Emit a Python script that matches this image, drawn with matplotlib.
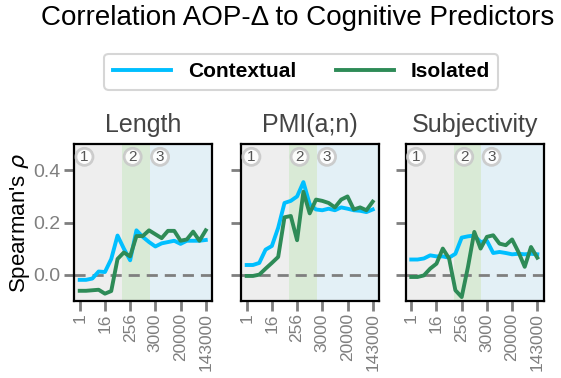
import numpy as np
import matplotlib
matplotlib.use("Agg")
import matplotlib.pyplot as plt
from matplotlib.lines import Line2D

plt.rcParams["font.family"] = ["Liberation Sans", "DejaVu Sans"]

# training checkpoints (x positions are their index), labels every 4th
tick_steps = ["1", "16", "256", "3000", "20000", "143000"]
panels = ["Length", "PMI(a;n)", "Subjectivity"]

contextual = {
    "Length": [-0.02, -0.02, -0.015, 0.012, 0.01, 0.06, 0.15, 0.10, 0.055, 0.17,
               0.145, 0.125, 0.108, 0.12, 0.125, 0.13, 0.118, 0.13, 0.13, 0.13, 0.133],
    "PMI(a;n)": [0.037, 0.037, 0.045, 0.096, 0.11, 0.18, 0.275, 0.283, 0.30, 0.355,
                 0.27, 0.25, 0.247, 0.253, 0.247, 0.258, 0.253, 0.247, 0.245, 0.24, 0.25],
    "Subjectivity": [0.058, 0.058, 0.062, 0.074, 0.07, 0.07, 0.065, 0.08, 0.142, 0.147,
                     0.15, 0.125, 0.13, 0.083, 0.087, 0.083, 0.078, 0.08, 0.078, 0.08, 0.078],
}
isolated = {
    "Length": [-0.062, -0.062, -0.06, -0.058, -0.073, -0.063, 0.06, 0.085, 0.07, 0.148,
               0.148, 0.17, 0.155, 0.14, 0.168, 0.168, 0.13, 0.135, 0.165, 0.13, 0.17],
    "PMI(a;n)": [-0.005, -0.005, 0.0, 0.023, 0.045, 0.068, 0.22, 0.225, 0.132, 0.318,
                 0.235, 0.288, 0.283, 0.275, 0.258, 0.288, 0.30, 0.25, 0.258, 0.247, 0.28],
    "Subjectivity": [-0.009, -0.009, -0.003, 0.023, 0.042, 0.10, 0.062, -0.06, -0.086, 0.03,
                     0.164, 0.10, 0.145, 0.151, 0.119, 0.113, 0.135, 0.087, 0.03, 0.106, 0.065],
}

# learning phases: edges of the shaded bands
phase_edges = [-0.9, 6.75, 11.1, 21.0]
phase_colors = ["#eeeeee", "#d9ead6", "#e3f0f6"]
phase_labels = ["1", "2", "3"]

c_ctx = "#00bfff"
c_iso = "#2e8b57"
gray = "#7f7f7f"

fig = plt.figure(figsize=(5.61, 3.78), dpi=100)
lefts = [0.132, 0.4296, 0.723]
axes = [fig.add_axes([l, 0.2045, 0.246, 0.4137]) for l in lefts]

for ax, name in zip(axes, panels):
    x = np.arange(len(contextual[name]))
    for i in range(3):
        ax.axvspan(phase_edges[i], phase_edges[i + 1], color=phase_colors[i], zorder=0, lw=0)
        ax.text(phase_edges[i] + 1.65, 0.452, phase_labels[i], ha="center", va="center",
                fontsize=11, color="#555555", zorder=5,
                bbox=dict(boxstyle="circle,pad=0.1", fc="white", ec="#c8c8c8", lw=2, alpha=0.9))
    ax.axhline(0, color=gray, ls="--", lw=2, dashes=(4, 2.5), zorder=1)
    ax.plot(x, contextual[name], color=c_ctx, lw=2.8, zorder=3)
    ax.plot(x, isolated[name], color=c_iso, lw=2.8, zorder=4)

    ax.set_xlim(phase_edges[0], phase_edges[-1])
    ax.set_ylim(-0.1, 0.5)
    ax.set_xticks(x[::4])
    ax.set_xticklabels(tick_steps, rotation=90, color=gray, fontsize=12.5)
    ax.set_yticks([0.0, 0.2, 0.4])
    ax.tick_params(length=7, width=2, color=gray, labelsize=14, labelcolor=gray, pad=3)
    ax.tick_params(axis="x", labelsize=12.5, pad=2)
    ax.set_title(name, color="#444444", fontsize=18, pad=9)
    for sp in ax.spines.values():
        sp.set_linewidth(1.6)
        sp.set_color("black")

axes[0].set_ylabel("Spearman's $\\rho$", fontsize=16, labelpad=1)
for ax in axes[1:]:
    ax.set_yticklabels([])

fig.text(0.53, 0.952, "Correlation AOP-\u0394 to Cognitive Predictors", ha="center", va="center", fontsize=20)

handles = [Line2D([], [], color=c_ctx, lw=2.8), Line2D([], [], color=c_iso, lw=2.8)]
leg = fig.legend(handles, ["Contextual", "Isolated"], loc="center", bbox_to_anchor=(0.537, 0.81),
                 ncol=2, prop={"weight": "bold", "size": 15}, frameon=True, fancybox=True,
                 edgecolor="#cccccc", handlelength=2.8, columnspacing=1.9, borderpad=0.4)
leg.get_frame().set_linewidth(1.5)

fig.savefig("out.png", dpi=100)
